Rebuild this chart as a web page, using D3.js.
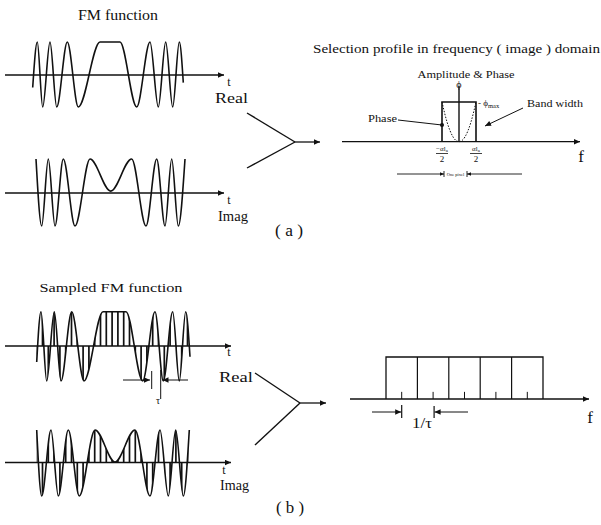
<!DOCTYPE html>
<html>
<head>
<meta charset="utf-8">
<script src="https://cdn.jsdelivr.net/npm/d3@7/dist/d3.min.js"></script>
<style>
  body { margin: 0; background: #fff; }
  text { font-family: "Liberation Serif", "Times New Roman", serif; fill: #111; }
</style>
</head>
<body>
<div id="chart"></div>
<script>
// extrema of the FM (chirp) waveforms: time position, normalised value
var realA_t = [32.7, 37.3, 42.7, 50, 56.7, 67.3, 78.3, 100, 120, 136.7, 150, 158.3, 165.7, 172.7, 179.3, 183.3];
var realA_v = [-0.4, 1, -1, 1, -1, 1, -1, 1, 1, -1, 1, -1, 1, -1, 1, -0.25];
var imagA_t = [36, 41.7, 48.3, 55, 63.3, 75, 90, 110.7, 131.7, 146, 156.7, 165, 171.7, 178.3, 185];
var imagA_v = [1, -1, 1, -1, 1, -1, 1, 0.04, 1, -1, 1, -1, 1, -1, 1];

var realB_t = [36.7, 41, 46.7, 54.3, 61, 71.7, 84, 103, 126, 142.7, 155, 163.3, 172.7, 179.3, 185.7, 190];
var realB_v = [-0.45, 1, -1, 1, -1, 1, -1, 1, 1, -1, 1, -1, 1, -1, 1, -0.3];
var imagB_t = [36.7, 41.7, 51, 58.3, 68.3, 79.3, 95, 115, 135, 150, 160, 168.3, 175.7, 183.3, 189.3];
var imagB_v = [1, -1, 1, -1, 1, -1, 1, 0.03, 1, -1, 1, -1, 1, -1, 1];

// sampling interval (tau) of the sampled FM function
var tau = 5.8;

// selection profile (a): band edges and phase profile (f in units of alpha*l/2)
var bandEdges = [-1, 1];
var phase_f = [-1, -0.7, -0.35, 0, 0.35, 0.7, 1];
var phase_v = [1, 0.49, 0.12, 0, 0.12, 0.49, 1];

// sampled profile (b): replicated bands, one per 1/tau
var cellEdges = [0, 1, 2, 3, 4, 5];
var cellCentres = [0.5, 1.5, 2.5, 3.5, 4.5];

var W = 601, H = 525;

var svg = d3.select("#chart").append("svg")
    .attr("width", W)
    .attr("height", H);

svg.append("rect").attr("width", W).attr("height", H).attr("fill", "#fff");

var defs = svg.append("defs");
defs.append("marker")
    .attr("id", "arr")
    .attr("viewBox", "0 0 10 10")
    .attr("refX", 10).attr("refY", 5)
    .attr("markerWidth", 7).attr("markerHeight", 6)
    .attr("markerUnits", "userSpaceOnUse")
    .attr("orient", "auto")
  .append("path")
    .attr("d", "M0,0.5L10,5L0,9.5Z")
    .attr("fill", "#111");
defs.append("marker")
    .attr("id", "arrS")
    .attr("viewBox", "0 0 10 10")
    .attr("refX", 10).attr("refY", 5)
    .attr("markerWidth", 5).attr("markerHeight", 4)
    .attr("markerUnits", "userSpaceOnUse")
    .attr("orient", "auto")
  .append("path")
    .attr("d", "M0,0.5L10,5L0,9.5Z")
    .attr("fill", "#111");

function line(x1, y1, x2, y2, w, marker) {
  var l = svg.append("line")
    .attr("x1", x1).attr("y1", y1).attr("x2", x2).attr("y2", y2)
    .attr("stroke", "#111").attr("stroke-width", w || 1.3);
  if (marker) l.attr("marker-end", "url(#" + marker + ")");
  return l;
}

function label(x, y, s, size, anchor, len) {
  var t = svg.append("text")
    .attr("x", x).attr("y", y)
    .attr("font-size", size)
    .attr("text-anchor", anchor || "start")
    .text(s);
  if (len) t.attr("textLength", len).attr("lengthAdjust", "spacingAndGlyphs");
  return t;
}

// time scale shared by the waveforms
var x = d3.scaleLinear().domain([0, 240]).range([0, 240]);

var clipCount = 0;
function drawWave(ts, vs, axisY, top, bottom, axisEnd, sampled) {
  var y = d3.scaleLinear().domain([-1, 1]).range([bottom, top]);
  var pts = ts.map(function(t, i) { return [t, vs[i]]; });

  // time axis
  line(5, axisY, axisEnd, axisY, 1.4, "arr");

  if (sampled) {
    var id = "clip" + (clipCount++);
    var area = d3.area()
      .x(function(d) { return x(d[0]); })
      .y0(axisY)
      .y1(function(d) { return y(d[1]); })
      .curve(d3.curveMonotoneX);
    defs.append("clipPath").attr("id", id)
      .append("path").attr("d", area(pts));
    var samples = d3.range(ts[0], ts[ts.length - 1], tau);
    svg.append("g").attr("clip-path", "url(#" + id + ")")
      .selectAll("line").data(samples).enter().append("line")
        .attr("x1", function(d) { return x(d); })
        .attr("x2", function(d) { return x(d); })
        .attr("y1", top - 2).attr("y2", bottom + 2)
        .attr("stroke", "#111").attr("stroke-width", 1.7);
  }

  var path = d3.line()
    .x(function(d) { return x(d[0]); })
    .y(function(d) { return y(d[1]); })
    .curve(d3.curveMonotoneX);
  svg.append("path")
    .attr("d", path(pts))
    .attr("fill", "none")
    .attr("stroke", "#111")
    .attr("stroke-width", 1.6);
}

// ---------- (a) ----------
label(118, 20, "FM function", 14, "middle", 80);
drawWave(realA_t, realA_v, 75, 42, 107, 224, false);
label(229, 86, "t", 12, "middle");
label(215, 103, "Real", 15, "start", 33);
drawWave(imagA_t, imagA_v, 193, 159, 226, 224, false);
label(229, 204, "t", 12, "middle");
label(218, 221, "Imag", 15, "start", 30);

line(247, 113, 295, 142, 1.4);
line(247, 168, 295, 142, 1.4);
line(295, 142, 320, 142, 1.3, "arr");
label(289, 236, "( a )", 16, "middle", 28);

// selection profile in frequency domain
label(313, 53, "Selection profile in frequency ( image ) domain", 13.5, "start", 287);
var fA = d3.scaleLinear().domain([-1, 1]).range([442, 476]);
var pA = d3.scaleLinear().domain([0, 1]).range([141.7, 102]);
line(342, 141.7, 580, 141.7, 1.3, "arr");
// amplitude (band)
svg.append("path")
  .attr("d", "M" + fA(bandEdges[0]) + "," + pA(0) + "V" + pA(1) + "H" + fA(bandEdges[1]) + "V" + pA(0))
  .attr("fill", "none").attr("stroke", "#111").attr("stroke-width", 1.6);
// phase profile
svg.append("path")
  .attr("d", d3.line()
      .x(function(d, i) { return fA(d); })
      .y(function(d, i) { return pA(phase_v[i]); })
      .curve(d3.curveNatural)(phase_f))
  .attr("fill", "none").attr("stroke", "#111")
  .attr("stroke-width", 1).attr("stroke-dasharray", "1.5,1.5");
// phi axis
line(fA(0), 86, fA(0), pA(0), 1.4);
label(fA(0), 88, "ϕ", 10, "middle");
label(466, 78, "Amplitude & Phase", 10.5, "middle", 97);
label(478, 106, "- ϕ", 9, "start").append("tspan")
  .attr("font-size", 6.5).attr("dy", 1.5).text("max");
label(527, 107, "Band width", 11, "start", 56);
line(523, 108, 485, 126, 1, "arr");
label(368, 122, "Phase", 11, "start", 29);
line(398, 120, 442, 125, 1);
svg.append("circle").attr("cx", fA(-1)).attr("cy", 125).attr("r", 2).attr("fill", "#111");
// tick fractions
[-1, 1].forEach(function(f) {
  label(fA(f), 151, (f < 0 ? "\u2212" : "") + "\u03b1l", 7, "middle").append("tspan")
    .attr("font-size", 5).attr("dy", 1).text("a");
  line(fA(f) - 6, 153.5, fA(f) + 6, 153.5, 0.8);
  label(fA(f), 162, "2", 9, "middle");
});
label(581, 162, "f", 17, "middle");
// one pixel marker
line(397, 174, 444, 174, 0.9, "arrS");
line(444, 171, 444, 177, 0.9);
line(522, 174, 467, 174, 0.9, "arrS");
line(467, 171, 467, 177, 0.9);
label(455.5, 175.5, "One pixel", 4.5, "middle");

// ---------- (b) ----------
label(111, 292, "Sampled FM function", 13.5, "middle", 143);
drawWave(realB_t, realB_v, 346, 311.7, 381, 231, true);
label(229, 356, "t", 12, "middle");
label(219, 382, "Real", 15, "start", 34);
drawWave(imagB_t, imagB_v, 462.5, 430, 496, 231, true);
label(224, 474, "t", 12, "middle");
label(220, 490, "Imag", 15, "start", 29);

// tau marker
line(123, 380, 150, 380, 1, "arr");
line(151.7, 371, 151.7, 389, 1);
line(160.7, 370, 160.7, 399, 1);
line(188, 380, 162.5, 380, 1, "arr");
label(158, 404, "\u03c4", 10, "middle");

line(255, 373, 300, 403, 1.4);
line(255, 445, 300, 403, 1.4);
line(300, 403, 326, 403, 1.3, "arr");
label(290, 513, "( b )", 16, "middle", 28);

// sampled selection profile
var fB = d3.scaleLinear().domain([0, 5]).range([386, 543]);
var aB = d3.scaleLinear().domain([0, 1]).range([399, 357]);
line(350, 399, 589, 399, 1.4, "arr");
svg.append("path")
  .attr("d", "M" + fB(0) + "," + aB(0) + "V" + aB(1) + "H" + fB(5) + "V" + aB(0))
  .attr("fill", "none").attr("stroke", "#111").attr("stroke-width", 1.3);
svg.selectAll(".cell").data(cellEdges.slice(1, -1)).enter().append("line")
  .attr("x1", function(d) { return fB(d); }).attr("x2", function(d) { return fB(d); })
  .attr("y1", aB(1)).attr("y2", aB(0))
  .attr("stroke", "#111").attr("stroke-width", 1.2);
svg.selectAll(".tick").data(cellCentres).enter().append("line")
  .attr("x1", function(d) { return fB(d); }).attr("x2", function(d) { return fB(d); })
  .attr("y1", aB(0.17)).attr("y2", aB(0))
  .attr("stroke", "#111").attr("stroke-width", 1);
// 1/tau marker
line(372, 412, fB(0.5) - 0.5, 412, 1, "arr");
line(fB(0.5), 405, fB(0.5), 418, 1.2);
line(468, 412, fB(1.5) + 1.5, 412, 1, "arr");
line(fB(1.5) + 1, 406, fB(1.5) + 1, 418, 1.2);
label(422, 428, "1/\u03c4", 14, "middle", 20);
label(590, 423, "f", 17, "middle");
</script>
</body>
</html>
